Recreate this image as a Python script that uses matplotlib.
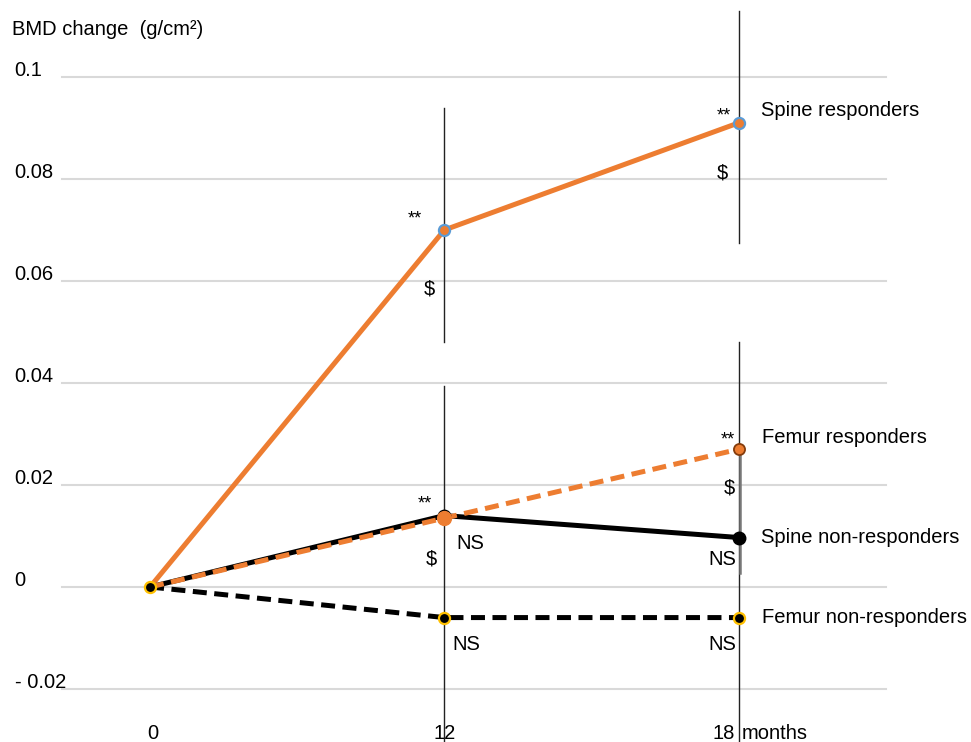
import matplotlib
matplotlib.use("Agg")
import matplotlib.pyplot as plt

plt.rcParams["font.family"] = ["Liberation Sans", "DejaVu Sans"]

# data
months = ["0", "12", "18"]
spine_resp = [0, 0.070, 0.091]
femur_resp = [0, 0.0135, 0.027]
spine_nonresp = [0, 0.014, 0.0097]
femur_nonresp = [0, -0.006, -0.006]

yticks = [0.1, 0.08, 0.06, 0.04, 0.02, 0, -0.02]
ytick_labels = ["0.1", "0.08", "0.06", "0.04", "0.02", "0", "- 0.02"]

# vertical error lines: position index, low, high
err_x = [1, 2, 1, 2]
err_lo = [0.048, 0.0675, -0.031, -0.031]
err_hi = [0.094, 0.113, 0.0394, 0.048]

ORANGE = "#ED7D31"
BLUE = "#5B9BD5"
GOLD = "#FFC000"

fig = plt.figure(figsize=(9.71, 7.42), dpi=100)
ax = fig.add_axes([0, 0, 1, 1])
ax.set_xlim(-0.51, 2.79)
ax.set_ylim(-0.0304, 0.1151)
ax.axis("off")

x = list(range(len(months)))
fs = 14.5
LW = 3.6

# gridlines + y labels
for v, lab in zip(yticks, ytick_labels):
    ax.plot([-0.30, 2.50], [v, v], color="#d9d9d9", lw=1.5, zorder=0)
    ax.text(-0.46, v + 0.0012, lab, ha="left", va="center", fontsize=fs)

# error lines
for xi, lo, hi in zip(err_x, err_lo, err_hi):
    ax.plot([xi, xi], [lo, hi], color="#222222", lw=1.0, zorder=1)
ax.plot([2.006, 2.006], [0.0027, femur_resp[2]], color="#777777", lw=1.8, zorder=1)

# series
ax.plot(x, spine_resp, color=ORANGE, lw=LW, zorder=3)
ax.plot(x, spine_nonresp, color="black", lw=LW, zorder=3)
ax.plot(x, femur_resp, color=ORANGE, lw=LW, ls=(0, (2.8, 1.5)), zorder=4)
ax.plot(x, femur_nonresp, color="black", lw=LW, ls=(0, (2.8, 1.5)), zorder=3)

# markers
ax.plot(x[1:], spine_resp[1:], "o", ms=8, mfc=ORANGE, mec=BLUE, mew=1.6, zorder=5)
ax.plot(x[1:], spine_nonresp[1:], "o", ms=9, mfc="black", mec="black", zorder=5)
ax.plot(x[1], femur_resp[1], "o", ms=10, mfc=ORANGE, mec=ORANGE, zorder=6)
ax.plot(x[2], femur_resp[2], "o", ms=8, mfc=ORANGE, mec="#843C0C", mew=1.3, zorder=6)
ax.plot(x[1:], femur_nonresp[1:], "o", ms=8, mfc="black", mec=GOLD, mew=1.6, zorder=5)
ax.plot(x[0], 0, "o", ms=8, mfc="black", mec=GOLD, mew=1.6, zorder=7)

# significance marks
marks = [
    (1, spine_resp[1], "**", -0.10, 0.0022, 13),
    (1, spine_resp[1], "$", -0.05, -0.0115, fs),
    (2, spine_resp[2], "**", -0.05, 0.0014, 13),
    (2, spine_resp[2], "$", -0.055, -0.0098, fs),
    (1, spine_nonresp[1], "**", -0.065, 0.0022, 13),
    (1, spine_nonresp[1], "$", -0.045, -0.0085, fs),
    (1, spine_nonresp[1], "NS", 0.09, -0.0055, fs),
    (1, femur_nonresp[1], "NS", 0.075, -0.0052, fs),
    (2, femur_resp[2], "**", -0.035, 0.0018, 13),
    (2, femur_resp[2], "$", -0.03, -0.0075, fs),
    (2, spine_nonresp[2], "NS", -0.055, -0.0043, fs),
    (2, femur_nonresp[2], "NS", -0.055, -0.0053, fs),
]
for xi, yv, s, dx, dy, f in marks:
    ax.text(xi + dx, yv + dy, s, ha="center", va="center", fontsize=f)

# series labels
ax.text(2.075, spine_resp[2] + 0.0025, "Spine responders", ha="left", va="center", fontsize=fs)
ax.text(2.08, femur_resp[2] + 0.0024, "Femur responders", ha="left", va="center", fontsize=fs)
ax.text(2.075, spine_nonresp[2], "Spine non-responders", ha="left", va="center", fontsize=fs)
ax.text(2.08, femur_nonresp[2], "Femur non-responders", ha="left", va="center", fontsize=fs)

# x labels
x_off = [0.01, 0.0, -0.05]
for xi, lab, off in zip(x, months, x_off):
    ax.text(xi + off, -0.0288, lab, ha="center", va="center", fontsize=fs)
ax.text(2.012, -0.0288, "months", ha="left", va="center", fontsize=fs)

ax.text(-0.47, 0.1093, "BMD change  (g/cm²)", ha="left", va="center", fontsize=fs)

fig.savefig("out.png", dpi=100)
